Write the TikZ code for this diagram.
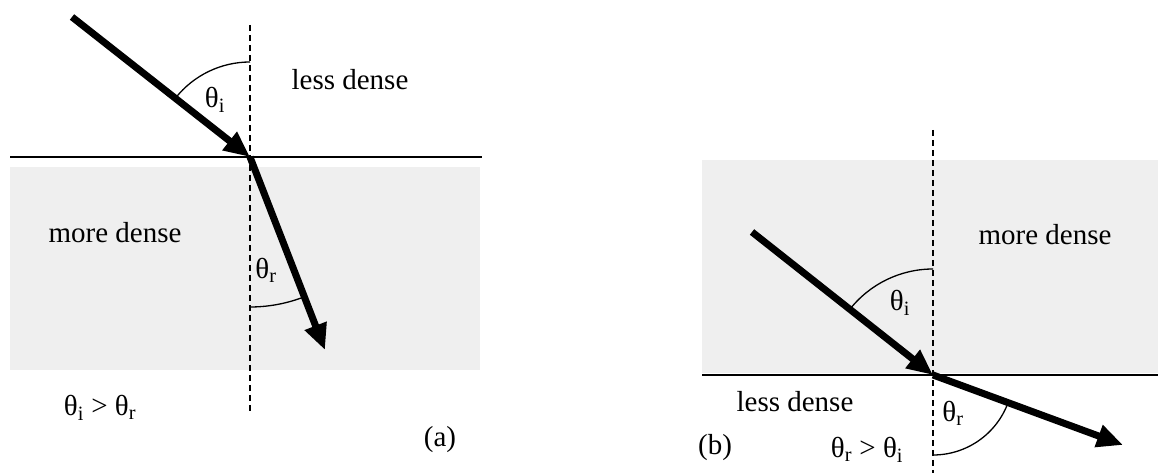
\documentclass[tikz,border=0pt]{standalone}
\usepackage{fontspec}
\setmainfont{Liberation Serif}
\usetikzlibrary{arrows.meta}
\definecolor{densegray}{RGB}{239,239,239}
\tikzset{
  ray/.style={line width=7pt,-{Triangle[length=26pt,width=22pt]}},
  normal/.style={line width=1.5pt,dash pattern=on 6pt off 4pt},
  interface/.style={line width=2.6pt},
  anglearc/.style={line width=1.3pt},
  lbl/.style={font=\fontsize{29}{34}\selectfont,inner sep=0pt},
}
\newcommand{\thi}{θ\textsubscript{i}}
\newcommand{\thr}{θ\textsubscript{r}}
\begin{document}
\begin{tikzpicture}[x=1pt,y=1pt]
\useasboundingbox (0,0) rectangle (1158,473);
% ---------- panel (a) ----------
\fill[densegray] (10,306) rectangle (480,103);
\coordinate (Oa) at (250,316);
\coordinate (Ia) at (72,456);
\coordinate (Ra) at (325,123);
\coordinate (NaT) at (250,448);
\coordinate (NaB) at (250,61);
\coordinate (SaL) at (10,316);
\coordinate (SaR) at (482,316);
\draw[interface] (SaL) -- (SaR);
\draw[normal] (NaT) -- (NaB);
\draw[ray] (Ia) -- (Oa);
\draw[ray] (Oa) -- (Ra);
\draw[anglearc] ([shift={(90:95)}]Oa) arc[start angle=90,end angle=141.5,radius=95];
\draw[anglearc] ([shift={(270:150)}]Oa) arc[start angle=270,end angle=291.2,radius=150];
\node[lbl] (tia) at (215,373) {\thi};
\node[lbl] (lda) at (350,393) {less dense};
\node[lbl] (mda) at (115,240) {more dense};
\node[lbl] (tra) at (266,203) {\thr};
\node[lbl] (rela) at (100,65) {\thi{} > \thr};
\node[lbl] (capa) at (440,33) {(a)};
% ---------- panel (b) ----------
\fill[densegray] (702,313) rectangle (1158,100);
\coordinate (Ob) at (933,98);
\coordinate (Ib) at (752,241);
\coordinate (Rb) at (1123,28);
\coordinate (NbT) at (933,343);
\coordinate (NbB) at (933,0);
\coordinate (SbL) at (702,98);
\coordinate (SbR) at (1158,98);
\draw[interface] (SbL) -- (SbR);
\draw[normal] (NbT) -- (NbB);
\draw[ray] (Ib) -- (Ob);
\draw[ray] (Ob) -- (Rb);
\draw[anglearc] ([shift={(90:106)}]Ob) arc[start angle=90,end angle=141.7,radius=106];
\draw[anglearc] ([shift={(270:80)}]Ob) arc[start angle=270,end angle=339.8,radius=80];
\node[lbl] (tib) at (900,170) {\thi};
\node[lbl] (mdb) at (1045,238) {more dense};
\node[lbl] (ldb) at (795,71) {less dense};
\node[lbl] (trb) at (953,60) {\thr};
\node[lbl] (capb) at (715,25) {(b)};
\node[lbl] (relb) at (867,23) {\thr{} > \thi};
\end{tikzpicture}
\end{document}
